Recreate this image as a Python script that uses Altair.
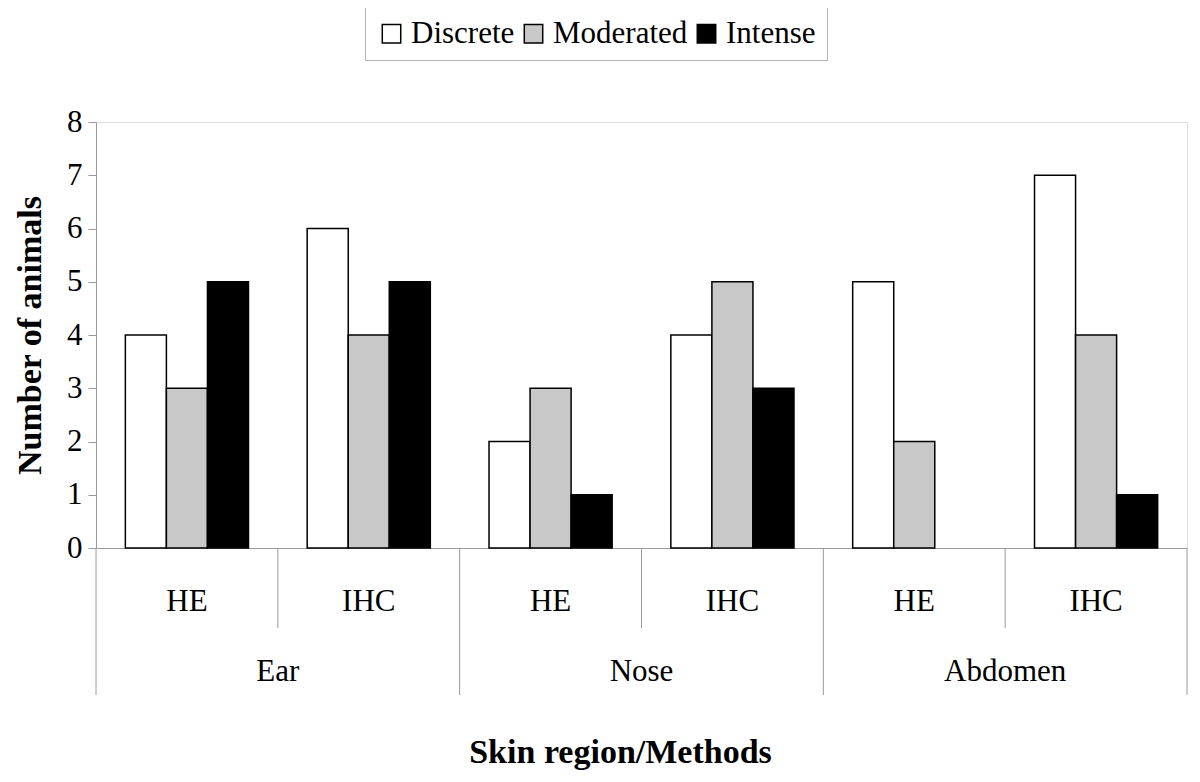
import altair as alt
import pandas as pd

regions = ["Ear", "Ear", "Nose", "Nose", "Abdomen", "Abdomen"]
methods = ["HE", "IHC", "HE", "IHC", "HE", "IHC"]
series = ["Discrete", "Moderated", "Intense"]
discrete = [4, 6, 2, 4, 5, 7]
moderated = [3, 4, 3, 5, 2, 4]
intense = [5, 5, 1, 3, 0, 1]

subs = [f"{r} {m}" for r, m in zip(regions, methods)]
rows = []
for i, s in enumerate(subs):
    for name, vals in zip(series, [discrete, moderated, intense]):
        rows.append({"sub": s, "series": name, "value": vals[i]})
df = pd.DataFrame(rows)
lab = pd.DataFrame({"sub": subs, "region": regions, "method": methods})

FONT = "Liberation Serif"
AX = "#9a9a9a"
W, H = 1091, 426

xscale = alt.Scale(domain=subs, paddingInner=0, paddingOuter=0)

bars = alt.Chart(df).transform_filter("datum.value > 0").mark_bar(
    stroke="black", strokeWidth=1.5
).encode(
    x=alt.X("sub:N", sort=subs, scale=xscale,
            axis=alt.Axis(labels=False, ticks=False, domainColor=AX, domainWidth=1,
                          title="Skin region/Methods", titleFont=FONT, titleFontSize=34,
                          titleFontWeight="bold", titleColor="black",
                          titleX=524, titleAlign="center",
                          titleY=204, titleBaseline="middle")),
    xOffset=alt.XOffset("series:N", sort=series,
                        scale=alt.Scale(domain=series, paddingOuter=0.715, paddingInner=0)),
    y=alt.Y("value:Q", scale=alt.Scale(domain=[0, 8], nice=False),
            axis=alt.Axis(values=list(range(9)), grid=False, domainColor=AX, tickColor=AX,
                          tickSize=8, labelFont=FONT, labelFontSize=31, labelColor="black",
                          labelPadding=6, title="Number of animals", titleFont=FONT,
                          titleFontSize=34, titleFontWeight="bold", titleColor="black",
                          titleX=-66, titleY=213, titleAngle=270, titleBaseline="middle")),
    color=alt.Color("series:N", sort=series,
                    scale=alt.Scale(domain=series, range=["white", "#c8c8c8", "black"]),
                    legend=alt.Legend(title=None, orient="none", legendX=269, legendY=-115,
                                      direction="horizontal", columns=3,
                                      labelFont=FONT, labelFontSize=31, labelColor="black",
                                      symbolType="square", symbolSize=340,
                                      symbolStrokeColor="black", symbolStrokeWidth=1.5,
                                      labelOffset=4, columnPadding=3,
                                      strokeColor="#b5b5b5", padding=11)),
)

method_text = alt.Chart(lab).mark_text(font=FONT, fontSize=31, color="black",
                                       baseline="middle").encode(
    x=alt.X("sub:N", sort=subs, scale=xscale),
    y=alt.value(480),
    text="method:N",
)

region_text = alt.Chart(lab).transform_filter("datum.method == 'IHC'").mark_text(
    font=FONT, fontSize=31, color="black", baseline="middle").encode(
    x=alt.X("sub:N", sort=subs, scale=xscale, bandPosition=0),
    y=alt.value(550),
    text="region:N",
)

method_rules = alt.Chart(lab).transform_filter("datum.method == 'IHC'").mark_rule(
    color=AX, strokeWidth=1).encode(
    x=alt.X("sub:N", sort=subs, scale=xscale, bandPosition=0),
    y=alt.value(H), y2=alt.value(H + 80),
)

region_rules = alt.Chart(lab).transform_filter("datum.method == 'HE'").mark_rule(
    color=AX, strokeWidth=1).encode(
    x=alt.X("sub:N", sort=subs, scale=xscale, bandPosition=0),
    y=alt.value(H), y2=alt.value(H + 147),
)

end_rule = alt.Chart(lab).transform_filter("datum.sub == 'Abdomen IHC'").mark_rule(
    color=AX, strokeWidth=1).encode(
    x=alt.X("sub:N", sort=subs, scale=xscale, bandPosition=1),
    y=alt.value(H), y2=alt.value(H + 147),
)

chart = alt.layer(bars, method_text, region_text, method_rules, region_rules, end_rule).properties(
    width=W, height=H,
    autosize=alt.AutoSizeParams(type="none"),
    padding={"left": 88, "top": 114, "right": 5, "bottom": 226},
).configure_view(stroke=None).configure(background="white")

chart.save("out.html", embed_options={"renderer": "svg", "actions": False})
